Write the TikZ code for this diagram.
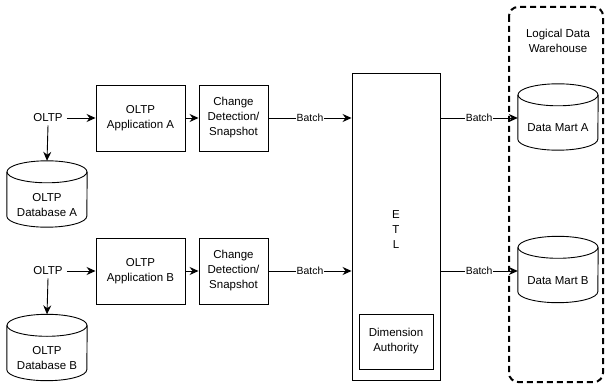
\documentclass[tikz,border=0pt]{standalone}
\usepackage{fontspec}
\setmainfont{Liberation Sans}
\usetikzlibrary{arrows.meta,calc}
\tikzset{
  every picture/.style={x=1pt,y=1pt},
  ln/.style={line width=0.9pt, draw=black},
  procbox/.style={ln, rectangle, align=center, inner sep=0pt,
     font=\fontsize{11.5}{15}\selectfont},
  plain/.style={align=center, inner sep=1pt, font=\fontsize{11.5}{15}\selectfont},
  dbbody/.style={rectangle, draw=none, minimum width=80pt, minimum height=66pt, inner sep=0pt},
  edgelbl/.style={fill=white, inner sep=1pt, font=\fontsize{10.4}{12}\selectfont},
  arr/.style={ln, -{Stealth[length=9pt,width=8pt,inset=3pt]}},
  group/.style={line width=2pt, dash pattern=on 6pt off 4pt, rounded corners=9pt}
}
\newcommand\dbcyl[1]{%
  \draw[ln] ($(#1.north west)+(0,-11)$) -- ($(#1.south west)+(0,11)$)
     arc[start angle=180,end angle=360,x radius=40,y radius=11]
     -- ($(#1.north east)+(0,-11)$);
  \draw[ln] ($(#1.north)+(0,-11)$) ellipse[x radius=40,y radius=11];
}
\begin{document}
\begin{tikzpicture}
\useasboundingbox (0,0) rectangle (606,-385);

% dashed group
\draw[group] (509,-7) rectangle (603,-382);
\node[plain] (lbl) at (558,-41) {Logical Data\\Warehouse};

% row A
\node[plain] (oltpA) at (48,-118) {OLTP};
\node[procbox, minimum width=89pt, minimum height=66pt] (appA) at (140.5,-118) {OLTP\\Application A};
\node[procbox, minimum width=69pt, minimum height=66pt] (cdA) at (233.5,-118) {Change\\Detection/\\Snapshot};
\node[dbbody] (dbA) at (47,-194) {};
\dbcyl{dbA}
\node[plain] (dbAt) at (47,-205) {OLTP\\Database A};

% row B
\node[plain] (oltpB) at (48,-271) {OLTP};
\node[procbox, minimum width=89pt, minimum height=66pt] (appB) at (140.5,-271) {OLTP\\Application B};
\node[procbox, minimum width=69pt, minimum height=66pt] (cdB) at (233.5,-271) {Change\\Detection/\\Snapshot};
\node[dbbody] (dbB) at (47,-347.5) {};
\dbcyl{dbB}
\node[plain] (dbBt) at (47,-358.5) {OLTP\\Database B};

% ETL
\node[procbox, minimum width=88pt, minimum height=307pt] (etl) at (396,-226.5) {};
\node[plain] (etlt) at (396,-230) {E\\T\\L};
\node[procbox, minimum width=74pt, minimum height=55pt] (dim) at (396,-341.5) {Dimension\\Authority};

% data marts
\node[dbbody] (dmA) at (558,-117) {};
\dbcyl{dmA}
\node[plain] (dmAt) at (558,-128) {Data Mart A};
\node[dbbody] (dmB) at (558,-269.5) {};
\dbcyl{dmB}
\node[plain] (dmBt) at (558,-280.5) {Data Mart B};

% connectors A
\draw[arr] (oltpA.east) ++(3,0) -- (appA.west);
\draw[arr] (oltpA.south) ++(0,-2) -- (dbA.north);
\draw[arr] (appA.east) -- (cdA.west);
\draw[arr] (cdA.east) -- node[edgelbl]{Batch} (etl.west |- cdA.east);
\draw[arr] (etl.east |- cdA.east) -- node[edgelbl]{Batch} (dmA.west |- cdA.east);

% connectors B
\draw[arr] (oltpB.east) ++(3,0) -- (appB.west);
\draw[arr] (oltpB.south) ++(0,-2) -- (dbB.north);
\draw[arr] (appB.east) -- (cdB.west);
\draw[arr] (cdB.east) -- node[edgelbl]{Batch} (etl.west |- cdB.east);
\draw[arr] (etl.east |- cdB.east) -- node[edgelbl]{Batch} (dmB.west |- cdB.east);
\end{tikzpicture}
\end{document}
